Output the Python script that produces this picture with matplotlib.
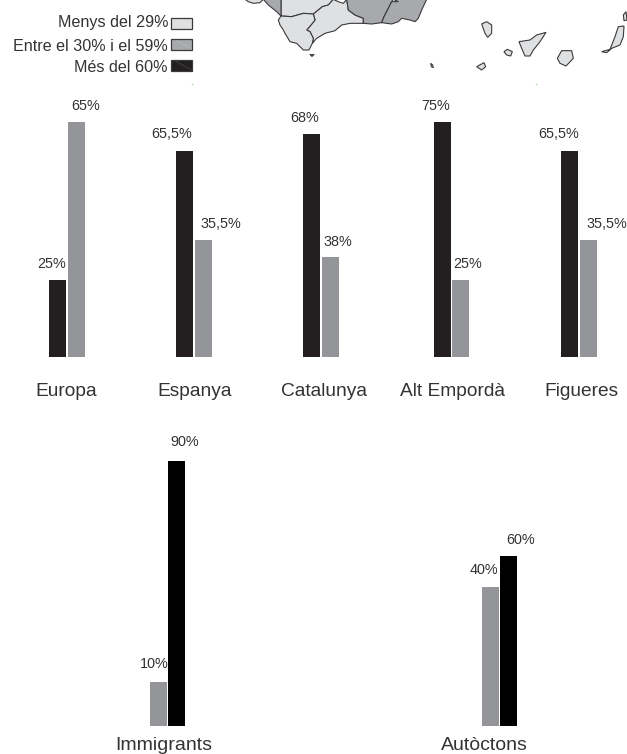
import matplotlib
matplotlib.use('Agg')
import matplotlib.pyplot as plt
from matplotlib.patches import Polygon, Rectangle

plt.rcParams['font.family'] = ['Liberation Sans', 'DejaVu Sans']

# Data: bar heights are read off the picture, they are not proportional to the labels
groups_top = ['Europa', 'Espanya', 'Catalunya', 'Alt Empordà', 'Figueres']
dark_heights = [77, 206, 223, 235, 206]
grey_heights = [235, 117, 100, 77, 117]
dark_labels = ['25%', '65,5%', '68%', '75%', '65,5%']
grey_labels = ['65%', '35,5%', '38%', '25%', '35,5%']

groups_bottom = ['Immigrants', 'Autòctons']
bottom_grey_heights = [44, 139]
bottom_black_heights = [265, 170]
bottom_grey_labels = ['10%', '40%']
bottom_black_labels = ['90%', '60%']

legend_labels = ['Menys del 29%', 'Entre el 30% i el 59%', 'Més del 60%']

land_light = [
    [(30, -2), (40, 5), (55, 10), (75, 8), (85, -2)],
    [(138, -2), (138, 48), (170, 50), (205, 40), (235, 42), (250, 30), (262, 20), (280, 15), (295, -2)],
    [(232, 130), (245, 115), (270, 100), (300, 92), (320, 75), (345, 70), (385, 70), (385, 55), (360, 45),
     (340, 30), (335, -2), (325, 10), (310, 5), (295, -2), (280, 15), (262, 20), (250, 30), (235, 42),
     (240, 60), (228, 75), (215, 90), (225, 95), (235, 115)],
    [(138, 48), (170, 50), (205, 40), (235, 42), (240, 60), (228, 75), (215, 90), (225, 95), (235, 115),
     (232, 130), (222, 150), (205, 150), (185, 130), (165, 125), (150, 100), (145, 90), (135, 75), (130, 60)],
]
land_grey = [
    [(85, -2), (100, 15), (125, 35), (138, 48), (138, -2)],
    [(335, -2), (340, 30), (360, 45), (385, 55), (385, 70), (410, 72), (440, 68), (447, 50), (460, 25),
     (470, 5), (475, -2)],
    [(475, -2), (490, 5), (470, 5), (460, 25), (447, 50), (440, 68), (470, 72), (490, 65), (500, 55),
     (525, 60), (540, 65), (550, 55), (560, 30), (575, -2)],
]
islands = [
    [(485, 72), (500, 65), (515, 75), (515, 100), (503, 112), (495, 100)],
    [(552, 155), (562, 148), (577, 155), (572, 168), (560, 165)],
    [(597, 125), (630, 120), (650, 105), (678, 97), (660, 125), (640, 150), (630, 168), (615, 168), (605, 145)],
    [(712, 175), (725, 152), (755, 152), (760, 175), (738, 198), (720, 190)],
    [(845, 155), (870, 148), (885, 110), (895, 80), (912, 78), (910, 110), (900, 135), (875, 145), (860, 158)],
    [(910, 45), (918, 35), (921, 60), (912, 62)],
    [(470, 200), (492, 188), (497, 200), (485, 210)],
    [(332, 190), (338, 195), (340, 203), (334, 200)],
]
cadiz_speck = [(224, 163), (238, 163), (231, 170)]

DARK = '#231f20'
GREY = '#939598'
MAP_LIGHT = '#dfe0e2'
MAP_GREY = '#a7a9ac'
TEXT = '#333333'
EDGE = '#3a3a3c'

fig = plt.figure(figsize=(6.27, 7.54), dpi=100)
ax = fig.add_axes([0, 0, 1, 1])
ax.set_xlim(0, 627)
ax.set_ylim(754, 0)
ax.axis('off')


# Crops are 3x, so go back to picture pixels
def crop_points(points, left):
    return [(left + x / 3, y / 3) for x, y in points]


# Map
for poly in land_light:
    ax.add_patch(Polygon(crop_points(poly, 235), fc=MAP_LIGHT, ec=EDGE, lw=0.8))
for poly in land_grey:
    ax.add_patch(Polygon(crop_points(poly, 235), fc=MAP_GREY, ec=EDGE, lw=0.8))
for poly in islands:
    ax.add_patch(Polygon(crop_points(poly, 320), fc=MAP_LIGHT, ec=EDGE, lw=0.8))
ax.add_patch(Polygon(crop_points(cadiz_speck, 235), fc=EDGE, ec=EDGE, lw=0.5))

# Little crop marks under the map
ax.plot([192, 536], [84, 84], ls='none', marker='s', ms=1, mfc='#9fdc8f', mec='none')

# Legend
legend_colors = [MAP_LIGHT, MAP_GREY, DARK]
legend_y = [23, 44.5, 65.5]
legend_text_y = [22.5, 46.5, 67.5]
for label, color, y, text_y in zip(legend_labels, legend_colors, legend_y, legend_text_y):
    ax.add_patch(Rectangle((170.5, y - 5.5), 21, 11, fc=color, ec=EDGE, lw=0.9))
    ax.text(168, text_y, label, ha='right', va='center', fontsize=11.6, color=TEXT)
    ax.plot([176, 191], [y - 4, y + 4], color='#ffffff', lw=0.3, alpha=0.3)

# Top bars
BAR_W = 17
top_base = 357
dark_left = [49, 176, 303, 434, 561]
grey_left = [68, 195, 322, 452, 580]
name_x = [66.5, 194.5, 324.5, 452, 581.5]
dark_text_x = [52, 172, 305, 436, 558.5]
grey_text_x = [86, 220.5, 338, 468, 606.5]
for i, name in enumerate(groups_top):
    ax.bar(dark_left[i], -dark_heights[i], BAR_W, bottom=top_base, align='edge', color=DARK)
    ax.bar(grey_left[i], -grey_heights[i], BAR_W, bottom=top_base, align='edge', color=GREY)
    ax.text(dark_text_x[i], top_base - dark_heights[i] - 16.5, dark_labels[i], ha='center', va='center',
            fontsize=10.4, color=TEXT)
    ax.text(grey_text_x[i], top_base - grey_heights[i] - 15.5, grey_labels[i], ha='center', va='center',
            fontsize=10.4, color=TEXT)
    ax.text(name_x[i], 391.5, name, ha='center', va='center', fontsize=13.8, color=TEXT)

# Bottom bars
bottom_base = 725.5
bottom_grey_left = [150, 482]
bottom_black_left = [168, 500]
bottom_name_x = [163.5, 484.5]
bottom_grey_text_x = [154, 484]
bottom_black_text_x = [185, 520.5]
bottom_grey_gap = [17, 16]
bottom_black_gap = [18, 15.5]
for i, name in enumerate(groups_bottom):
    ax.bar(bottom_grey_left[i], -bottom_grey_heights[i], BAR_W, bottom=bottom_base, align='edge', color=GREY)
    ax.bar(bottom_black_left[i], -bottom_black_heights[i], BAR_W, bottom=bottom_base, align='edge', color='black')
    ax.text(bottom_grey_text_x[i], bottom_base - bottom_grey_heights[i] - bottom_grey_gap[i], bottom_grey_labels[i],
            ha='center', va='center', fontsize=10.4, color=TEXT)
    ax.text(bottom_black_text_x[i], bottom_base - bottom_black_heights[i] - bottom_black_gap[i], bottom_black_labels[i],
            ha='center', va='center', fontsize=10.4, color=TEXT)
    ax.text(bottom_name_x[i], 745, name, ha='center', va='center', fontsize=14, color=TEXT)

fig.savefig('out.png', dpi=100)
